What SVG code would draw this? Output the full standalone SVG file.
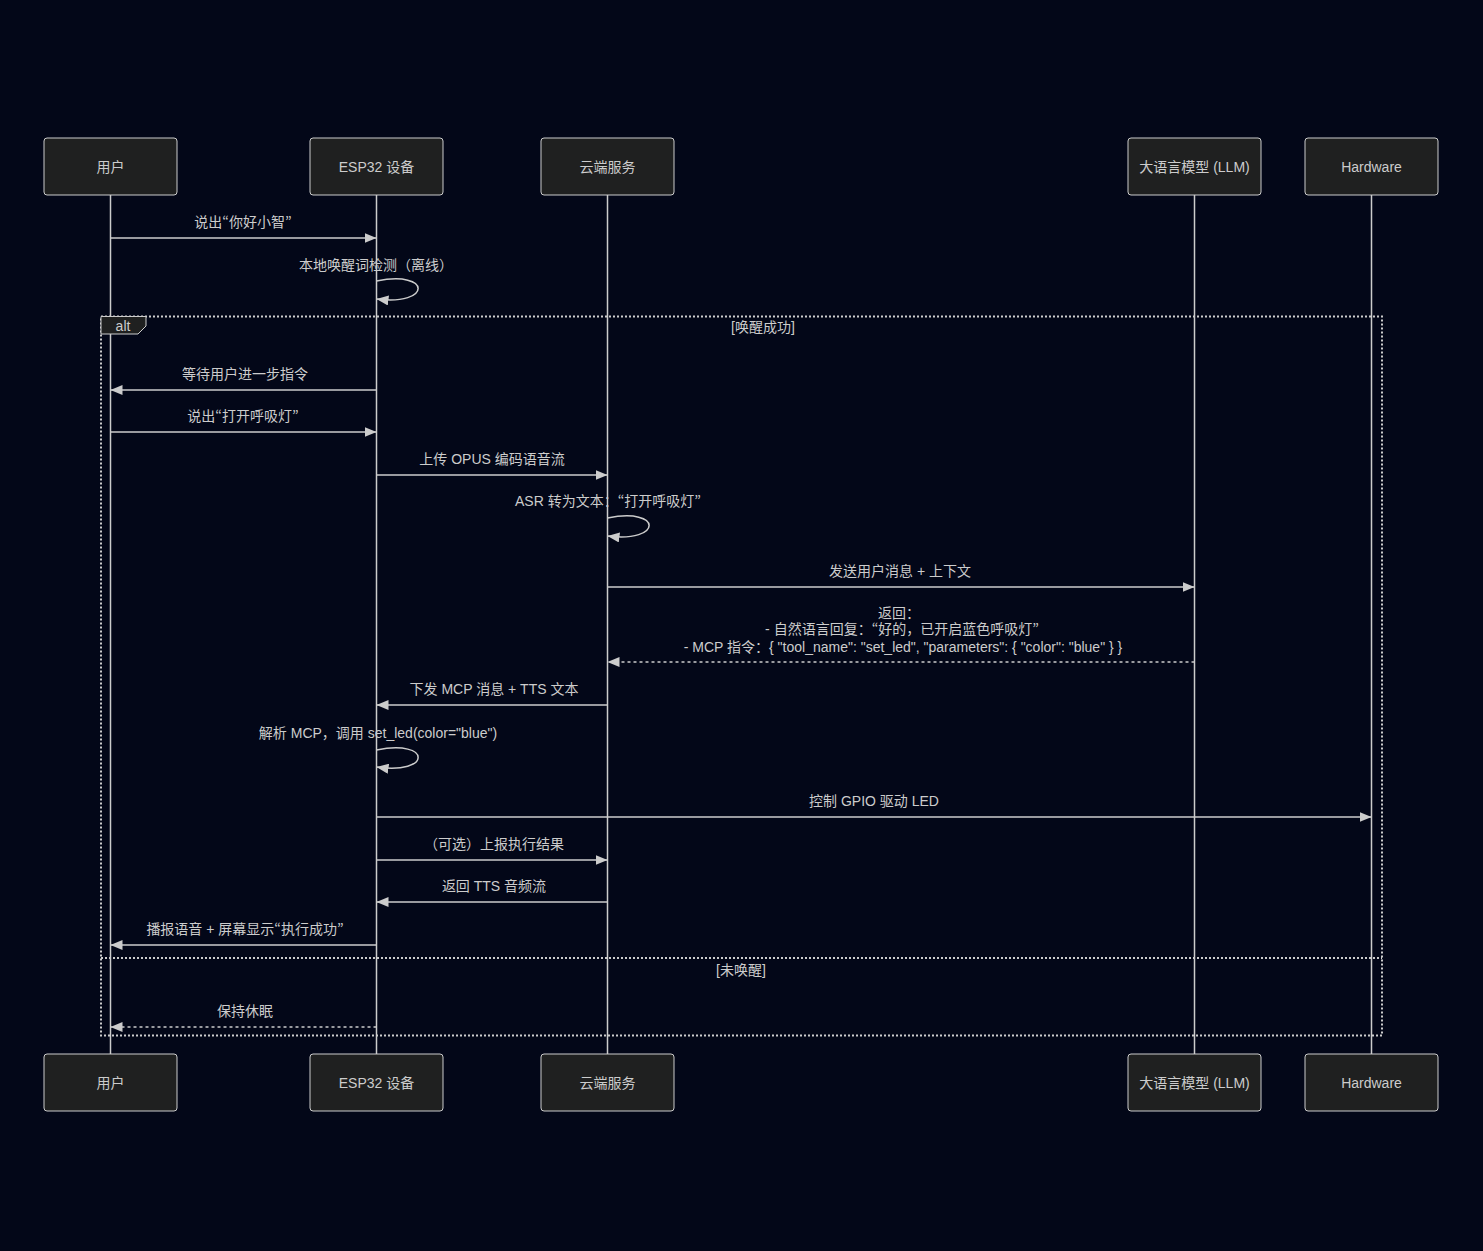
<svg xmlns="http://www.w3.org/2000/svg" width="1483" height="1251" viewBox="0 0 1483 1251">
<defs>
<style>
.bg{fill:#030718}
.actor rect{fill:#1f2020;stroke:#ccc;stroke-width:1}
.t{font-family:"Liberation Sans","Noto Sans CJK SC",sans-serif;font-size:14px;fill:#ccc;text-anchor:middle}
.q{font-family:"Noto Sans CJK JP",sans-serif}
.life{stroke:#ccc;stroke-width:1.5}
.msg{stroke:#ccc;stroke-width:1.5;fill:none}
.dash{stroke-dasharray:3 3}
.loop{stroke:#ccc;stroke-width:2;fill:none;stroke-dasharray:2 2}
.tab{fill:#1f2020;stroke:#ccc;stroke-width:1}
</style>
<marker id="ah" viewBox="0 0 12 10" refX="12" refY="5" markerWidth="12" markerHeight="10" markerUnits="userSpaceOnUse" orient="auto">
<path d="M0,0 L12,5 L0,10 z" fill="#ccc"/>
</marker>
</defs>
<rect class="bg" x="0" y="0" width="1483" height="1251"/>
<g id="lifelines">
<line class="life" x1="110.5" y1="195" x2="110.5" y2="1054"/>
<line class="life" x1="376.5" y1="195" x2="376.5" y2="1054"/>
<line class="life" x1="607.5" y1="195" x2="607.5" y2="1054"/>
<line class="life" x1="1194.5" y1="195" x2="1194.5" y2="1054"/>
<line class="life" x1="1371.5" y1="195" x2="1371.5" y2="1054"/>
</g>
<g id="actor-user" class="actor"><rect x="44" y="138" width="133" height="57" rx="3"/><text class="t" x="110.5" y="172">用户</text></g>
<g id="actor-esp" class="actor"><rect x="310" y="138" width="133" height="57" rx="3"/><text class="t" x="376.5" y="172">ESP32 设备</text></g>
<g id="actor-cloud" class="actor"><rect x="541" y="138" width="133" height="57" rx="3"/><text class="t" x="607.5" y="172">云端服务</text></g>
<g id="actor-llm" class="actor"><rect x="1128" y="138" width="133" height="57" rx="3"/><text class="t" x="1194.5" y="172">大语言模型 (LLM)</text></g>
<g id="actor-hw" class="actor"><rect x="1305" y="138" width="133" height="57" rx="3"/><text class="t" x="1371.5" y="172">Hardware</text></g>
<g id="actor-user-b" class="actor"><rect x="44" y="1054" width="133" height="57" rx="3"/><text class="t" x="110.5" y="1088">用户</text></g>
<g id="actor-esp-b" class="actor"><rect x="310" y="1054" width="133" height="57" rx="3"/><text class="t" x="376.5" y="1088">ESP32 设备</text></g>
<g id="actor-cloud-b" class="actor"><rect x="541" y="1054" width="133" height="57" rx="3"/><text class="t" x="607.5" y="1088">云端服务</text></g>
<g id="actor-llm-b" class="actor"><rect x="1128" y="1054" width="133" height="57" rx="3"/><text class="t" x="1194.5" y="1088">大语言模型 (LLM)</text></g>
<g id="actor-hw-b" class="actor"><rect x="1305" y="1054" width="133" height="57" rx="3"/><text class="t" x="1371.5" y="1088">Hardware</text></g>
<g id="alt-frame">
<rect class="loop" x="101" y="316.5" width="1281" height="719"/>
<line class="loop" x1="101" y1="958" x2="1382" y2="958"/>
<polygon class="tab" points="101,316.5 146,316.5 146,326 138,334 101,334"/>
<text class="t" x="123" y="331">alt</text>
<text class="t" x="763" y="332">[唤醒成功]</text>
<text class="t" x="741" y="975">[未唤醒]</text>
</g>
<g id="connectors">
<text class="t" x="243" y="227">说出<tspan class="q">“</tspan>你好小智<tspan class="q">”</tspan></text>
<line class="msg" x1="110.5" y1="238" x2="376.5" y2="238" marker-end="url(#ah)"/>
<text class="t" x="376" y="270">本地唤醒词检测（离线）</text>
<path class="msg" d="M376.5,281 C432,270 432,306 376.5,299" marker-end="url(#ah)"/>
<text class="t" x="245" y="379">等待用户进一步指令</text>
<line class="msg" x1="376.5" y1="390" x2="110.5" y2="390" marker-end="url(#ah)"/>
<text class="t" x="243" y="421">说出<tspan class="q">“</tspan>打开呼吸灯<tspan class="q">”</tspan></text>
<line class="msg" x1="110.5" y1="432" x2="376.5" y2="432" marker-end="url(#ah)"/>
<text class="t" x="492" y="464">上传 OPUS 编码语音流</text>
<line class="msg" x1="376.5" y1="475" x2="607.5" y2="475" marker-end="url(#ah)"/>
<text class="t" x="608" y="506">ASR 转为文本：<tspan class="q">“</tspan>打开呼吸灯<tspan class="q">”</tspan></text>
<path class="msg" d="M607.5,518 C663,507 663,543 607.5,536" marker-end="url(#ah)"/>
<text class="t" x="900" y="576">发送用户消息 + 上下文</text>
<line class="msg" x1="607.5" y1="587" x2="1194.5" y2="587" marker-end="url(#ah)"/>
<text class="t" x="899" y="618">返回：</text>
<text class="t" x="902" y="634">- 自然语言回复：<tspan class="q">“</tspan>好的，已开启蓝色呼吸灯<tspan class="q">”</tspan></text>
<text class="t" x="903" y="652">- MCP 指令：{ "tool_name": "set_led", "parameters": { "color": "blue" } }</text>
<line class="msg dash" x1="1194.5" y1="662" x2="607.5" y2="662" marker-end="url(#ah)"/>
<text class="t" x="494" y="694">下发 MCP 消息 + TTS 文本</text>
<line class="msg" x1="607.5" y1="705" x2="376.5" y2="705" marker-end="url(#ah)"/>
<text class="t" x="378" y="738">解析 MCP，调用 set_led(color="blue")</text>
<path class="msg" d="M376.5,750 C432,739 432,775 376.5,767" marker-end="url(#ah)"/>
<text class="t" x="874" y="806">控制 GPIO 驱动 LED</text>
<line class="msg" x1="376.5" y1="817" x2="1371.5" y2="817" marker-end="url(#ah)"/>
<text class="t" x="494" y="849">（可选）上报执行结果</text>
<line class="msg" x1="376.5" y1="860" x2="607.5" y2="860" marker-end="url(#ah)"/>
<text class="t" x="494" y="891">返回 TTS 音频流</text>
<line class="msg" x1="607.5" y1="902" x2="376.5" y2="902" marker-end="url(#ah)"/>
<text class="t" x="245" y="934">播报语音 + 屏幕显示<tspan class="q">“</tspan>执行成功<tspan class="q">”</tspan></text>
<line class="msg" x1="376.5" y1="945" x2="110.5" y2="945" marker-end="url(#ah)"/>
<text class="t" x="245" y="1016">保持休眠</text>
<line class="msg dash" x1="376.5" y1="1027" x2="110.5" y2="1027" marker-end="url(#ah)"/>
</g>
</svg>
